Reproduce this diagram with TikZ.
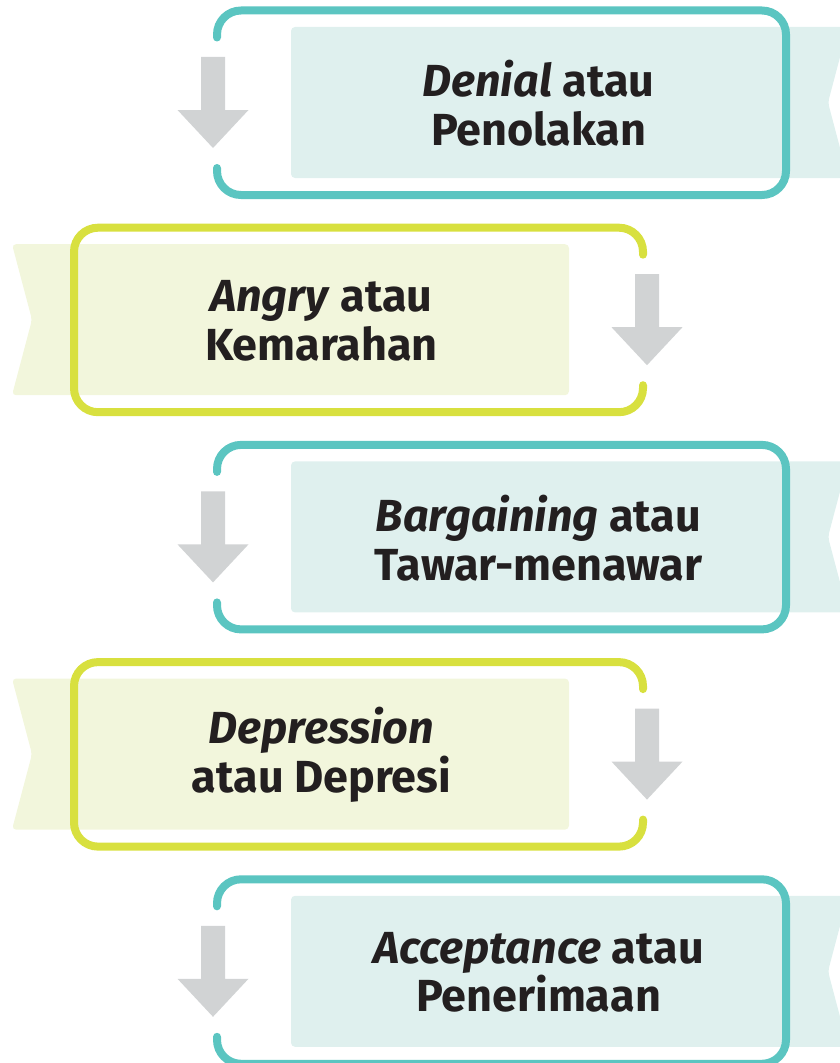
\documentclass[tikz,border=0pt]{standalone}
\usepackage{fontspec}
\setmainfont{Fira Sans}
\definecolor{stageteal}{HTML}{5BC5C1}
\definecolor{stagetealbg}{HTML}{DFF0EE}
\definecolor{stagelime}{HTML}{D8E03F}
\definecolor{stagelimebg}{HTML}{F2F6DC}
\definecolor{arrowgrey}{HTML}{D1D3D4}
\definecolor{stageink}{HTML}{231F20}
\tikzset{
	stageframe/.style={line width=6pt,line cap=round,rounded corners=18pt},
	stageband/.style={rounded corners=3pt},
	stagetext/.style={align=center,inner sep=0pt,text=stageink,
		font=\fontsize{33.7}{36.5}\selectfont\bfseries}
}
\begin{document}
\begin{tikzpicture}[x=0.75pt,y=-0.75pt]
		\useasboundingbox (0,0) rectangle (839,1063);
		\foreach \i/\s/\framecol/\fillcol/\txt in {
			0/1/stageteal/stagetealbg/{\textit{Denial} atau\\Penolakan},
			1/-1/stagelime/stagelimebg/{\textit{Angry} atau\\Kemarahan},
			2/1/stageteal/stagetealbg/{\textit{Bargaining} atau\\Tawar-menawar},
			3/-1/stagelime/stagelimebg/{\textit{Depression}\\atau Depresi},
			4/1/stageteal/stagetealbg/{\textit{Acceptance} atau\\Penerimaan}}
		{
		\begin{scope}[shift={(430,10.5+217.2*\i)},xscale=\s]
		%ribbon behind the frame
		\fill[stageband,\fillcol] (-139,16.5) -- (418,16.5) -- (398,92) -- (418,167.5) -- (-139,167.5) -- cycle;
		\draw[stageframe,\framecol] (-213,27) -- (-213,0) -- (356,0) -- (356,184.5) -- (-213,184.5) -- (-213,157.5);
		%grey arrow down to the next stage
		\fill[arrowgrey] (-229,46.5) -- (-205,46.5) -- (-205,99.5) -- (-181.5,99.5) -- (-217,137.5)
			-- (-252.5,99.5) -- (-229,99.5) -- cycle;
		\node[stagetext] (stage\i) at (108.5,93) {\txt};
		\end{scope}
		}
		\end{tikzpicture}
\end{document}
